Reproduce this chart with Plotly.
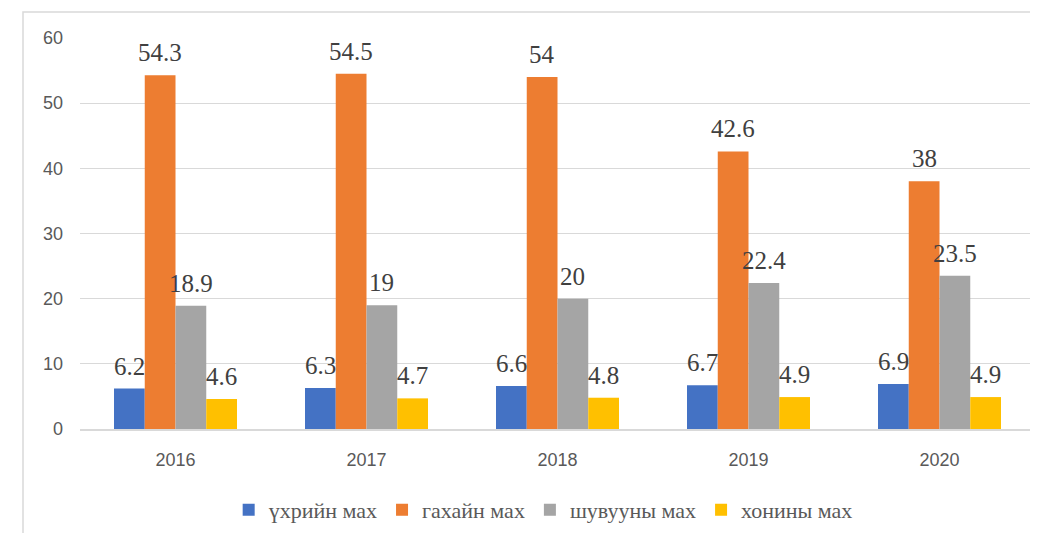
import plotly.graph_objects as go

years = ["2016", "2017", "2018", "2019", "2020"]
series_names = ["үхрийн мах", "гахайн мах", "шувууны мах", "хонины мах"]
beef = [6.2, 6.3, 6.6, 6.7, 6.9]
pork = [54.3, 54.5, 54, 42.6, 38]
poultry = [18.9, 19, 20, 22.4, 23.5]
mutton = [4.6, 4.7, 4.8, 4.9, 4.9]
y_ticks = [0, 10, 20, 30, 40, 50, 60]

colors = ["#4472C4", "#ED7D31", "#A5A5A5", "#FFC000"]
values = [beef, pork, poultry, mutton]

W, H = 1038, 533
L, R, T, B = 72, 11, 30, 111
pw, ph = W - L - R, H - T - B
BARGAP = 0.356

fig = go.Figure()
for name, vals, col in zip(series_names, values, colors):
    fig.add_trace(go.Bar(
        x=years, y=vals, name=name,
        marker=dict(color=col, line=dict(width=0)),
    ))

# data labels placed above each bar (offset by bar slot within the group)
cat_px = pw / len(years)
bar_px = cat_px * (1 - BARGAP) / len(values)
annotations = []
for i, vals in enumerate(values):
    dx = (i - (len(values) - 1) / 2) * bar_px
    for j, v in enumerate(vals):
        annotations.append(dict(
            x=j, y=v, xref="x", yref="y", text=f"{v:g}", showarrow=False,
            xanchor="center", yanchor="bottom", xshift=dx, yshift=7,
            font=dict(family="Liberation Serif", size=25, color="#404040"),
        ))

fig.update_layout(
    width=W, height=H,
    margin=dict(l=L, r=R, t=T, b=B),
    paper_bgcolor="white", plot_bgcolor="white",
    barmode="group", bargap=BARGAP, bargroupgap=0,
    showlegend=True,
    legend=dict(orientation="h", x=0.485, xanchor="center", y=-0.204, yanchor="middle",
                font=dict(family="Liberation Serif", size=22, color="#595959"),
                itemwidth=30, tracegroupgap=0),
    xaxis=dict(type="category", categoryorder="array", categoryarray=years,
               range=[-0.5, len(years) - 0.5],
               showgrid=False, showline=True, linecolor="#d9d9d9", linewidth=1.5,
               ticks="", ticklabelstandoff=14,
               tickfont=dict(family="Liberation Sans", size=18, color="#595959")),
    yaxis=dict(range=[0, 60], tickvals=y_ticks, showgrid=True, gridcolor="#d9d9d9",
               gridwidth=1, zeroline=False, showline=False, ticks="",
               ticklabelstandoff=16,
               tickfont=dict(family="Liberation Sans", size=18, color="#595959")),
    annotations=annotations,
    shapes=[dict(type="rect", xref="paper", yref="paper",
                 x0=(15 - L) / pw, x1=(W + 20 - L) / pw,
                 y0=-(B + 20) / ph, y1=1 + (T - 4) / ph,
                 line=dict(color="#d9d9d9", width=1.5), layer="below")],
)

fig.write_html("out.html")
